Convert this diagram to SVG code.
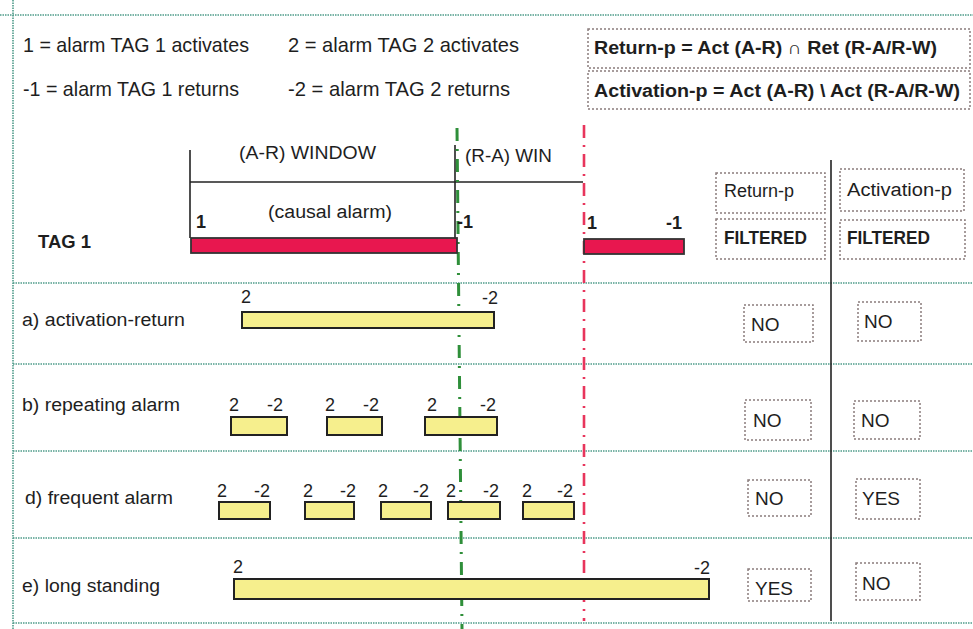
<svg xmlns="http://www.w3.org/2000/svg" width="973" height="629" viewBox="0 0 973 629">
<style>
text{font-family:"Liberation Sans",Arial,sans-serif;fill:#1e1e1e}
.leg{font-size:21px}
.f{font-size:18px;font-weight:bold}
.t{font-size:18px}
.yn{font-size:19px}
.b{font-size:18px;font-weight:bold}
.n{font-size:18px}
.grid{stroke:#4f9c8a;stroke-width:1.6;stroke-dasharray:1.5 1;fill:none}
.blk{stroke:#222;stroke-width:1.6;fill:none}
.dot{fill:#fff;stroke:#8a7c7c;stroke-width:1.5;stroke-dasharray:2 2}
.red{fill:#e8174f;stroke:#333;stroke-width:1.8}
.yel{fill:#f6ef8d;stroke:#222;stroke-width:2}
.rdd{stroke:#e8355c;stroke-width:2.6;stroke-dasharray:13 7 2 7;fill:none}
.gdd{stroke:#2f8f3a;stroke-width:3;stroke-dasharray:13 8 2 8;fill:none}
</style>
<rect width="973" height="629" fill="#fff"/>
<g id="grid">
<line class="grid" x1="0" y1="15" x2="973" y2="15"/>
<line class="grid" x1="13" y1="0" x2="13" y2="629"/>
<line class="grid" x1="13" y1="283" x2="973" y2="283"/>
<line class="grid" x1="13" y1="364" x2="973" y2="364"/>
<line class="grid" x1="13" y1="451" x2="973" y2="451"/>
<line class="grid" x1="13" y1="538" x2="973" y2="538"/>
<line class="grid" x1="13" y1="623" x2="973" y2="623"/>
</g>
<g id="legend">
<text class="leg" x="23" y="52" textLength="226" lengthAdjust="spacingAndGlyphs">1 = alarm TAG 1 activates</text>
<text class="leg" x="288" y="52" textLength="231" lengthAdjust="spacingAndGlyphs">2 = alarm TAG 2 activates</text>
<text class="leg" x="23" y="96" textLength="216" lengthAdjust="spacingAndGlyphs">-1 = alarm TAG 1 returns</text>
<text class="leg" x="288" y="96" textLength="222" lengthAdjust="spacingAndGlyphs">-2 = alarm TAG 2 returns</text>
</g>
<g id="formula-return">
<rect class="dot" x="588" y="29" width="382" height="39"/>
<text class="f" x="594" y="54" textLength="343" lengthAdjust="spacingAndGlyphs">Return-p = Act (A-R) ∩ Ret (R-A/R-W)</text>
</g>
<g id="formula-activation">
<rect class="dot" x="588" y="71" width="382" height="38"/>
<text class="f" x="594" y="97" textLength="366" lengthAdjust="spacingAndGlyphs">Activation-p = Act (A-R) \ Act (R-A/R-W)</text>
</g>
<g id="connectors">
<line class="blk" x1="190" y1="150" x2="190" y2="238"/>
<line class="blk" x1="190" y1="182" x2="583" y2="182"/>
<line class="blk" x1="455" y1="145" x2="455" y2="238"/>
<line class="blk" x1="831" y1="160" x2="831" y2="621"/>
<line class="rdd" x1="584" y1="125" x2="584" y2="621"/>
<line class="gdd" x1="457" y1="128" x2="462" y2="629"/>
</g>
<g id="windows">
<text class="t" x="239" y="159" textLength="137" lengthAdjust="spacingAndGlyphs">(A-R) WINDOW</text>
<text class="t" x="465" y="162" textLength="87" lengthAdjust="spacingAndGlyphs">(R-A) WIN</text>
<text class="t" x="268" y="218" textLength="124" lengthAdjust="spacingAndGlyphs">(causal alarm)</text>
</g>
<g id="tag1">
<text class="b" x="38" y="248" textLength="53" lengthAdjust="spacingAndGlyphs">TAG 1</text>
<rect class="red" x="191" y="238" width="266" height="15"/>
<text class="b" x="196" y="228">1</text>
<text class="b" x="457" y="228">-1</text>
<rect class="red" x="584" y="239" width="100" height="15"/>
<text class="b" x="587" y="229">1</text>
<text class="b" x="666" y="229">-1</text>
</g>
<g id="header-return">
<rect class="dot" x="716" y="173" width="109" height="40"/>
<text class="t" x="724" y="197" textLength="70" lengthAdjust="spacingAndGlyphs">Return-p</text>
<rect class="dot" x="716" y="219" width="109" height="40"/>
<text class="b" x="724" y="244" textLength="83" lengthAdjust="spacingAndGlyphs">FILTERED</text>
</g>
<g id="header-activation">
<rect class="dot" x="840" y="169" width="124" height="42"/>
<text class="t" x="847" y="196" textLength="105" lengthAdjust="spacingAndGlyphs">Activation-p</text>
<rect class="dot" x="840" y="220" width="125" height="39"/>
<text class="b" x="847" y="244" textLength="83" lengthAdjust="spacingAndGlyphs">FILTERED</text>
</g>
<g id="row-a">
<text class="t" x="22" y="326" textLength="163" lengthAdjust="spacingAndGlyphs">a) activation-return</text>
<rect class="yel" x="242" y="312" width="252" height="16"/>
<text class="n" x="241" y="303">2</text>
<text class="n" x="482" y="304">-2</text>
<rect class="dot" x="744" y="305" width="69" height="37"/>
<text class="yn" x="751" y="331">NO</text>
<rect class="dot" x="858" y="302" width="63" height="39"/>
<text class="yn" x="864" y="328">NO</text>
</g>
<g id="row-b">
<text class="t" x="22" y="411" textLength="158" lengthAdjust="spacingAndGlyphs">b) repeating alarm</text>
<rect class="yel" x="231" y="417" width="56" height="18"/>
<rect class="yel" x="327" y="417" width="55" height="18"/>
<rect class="yel" x="425" y="417" width="72" height="18"/>
<text class="n" x="229" y="411">2</text><text class="n" x="267" y="411">-2</text>
<text class="n" x="325" y="411">2</text><text class="n" x="363" y="411">-2</text>
<text class="n" x="427" y="411">2</text><text class="n" x="480" y="411">-2</text>
<rect class="dot" x="745" y="400" width="66" height="40"/>
<text class="yn" x="753" y="427">NO</text>
<rect class="dot" x="854" y="401" width="66" height="38"/>
<text class="yn" x="861" y="427">NO</text>
</g>
<g id="row-d">
<text class="t" x="25" y="504" textLength="148" lengthAdjust="spacingAndGlyphs">d) frequent alarm</text>
<rect class="yel" x="219" y="502" width="51" height="17"/>
<rect class="yel" x="305" y="502" width="49" height="17"/>
<rect class="yel" x="381" y="502" width="50" height="17"/>
<rect class="yel" x="448" y="502" width="52" height="17"/>
<rect class="yel" x="523" y="502" width="51" height="17"/>
<text class="n" x="217" y="497">2</text><text class="n" x="254" y="497">-2</text>
<text class="n" x="303" y="497">2</text><text class="n" x="340" y="497">-2</text>
<text class="n" x="378" y="497">2</text><text class="n" x="413" y="497">-2</text>
<text class="n" x="446" y="497">2</text><text class="n" x="483" y="497">-2</text>
<text class="n" x="522" y="497">2</text><text class="n" x="557" y="497">-2</text>
<rect class="dot" x="748" y="480" width="63" height="36"/>
<text class="yn" x="755" y="505">NO</text>
<rect class="dot" x="856" y="479" width="64" height="40"/>
<text class="yn" x="862" y="505">YES</text>
</g>
<g id="row-e">
<text class="t" x="22" y="592" textLength="138" lengthAdjust="spacingAndGlyphs">e) long standing</text>
<rect class="yel" x="234" y="579" width="475" height="20"/>
<text class="n" x="233" y="573">2</text>
<text class="n" x="694" y="574">-2</text>
<rect class="dot" x="748" y="569" width="63" height="32"/>
<text class="yn" x="755" y="595">YES</text>
<rect class="dot" x="856" y="563" width="64" height="37"/>
<text class="yn" x="862" y="590">NO</text>
</g>
</svg>
